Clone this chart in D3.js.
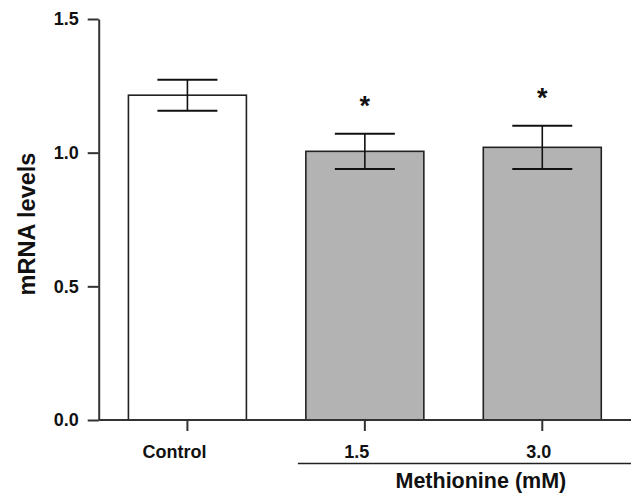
<!DOCTYPE html>
<html>
<head>
<meta charset="utf-8">
<script src="https://cdn.jsdelivr.net/npm/d3@7"></script>
<style>
  body { margin: 0; background: #fff; }
  text { font-family: "Liberation Sans", Arial, Helvetica, sans-serif; font-weight: bold; fill: #111; }
</style>
</head>
<body>
<svg id="chart" width="635" height="496"></svg>
<script>
var groups = ["Control", "1.5", "3.0"]
var means = [1.215, 1.005, 1.02]
var sems = [0.058, 0.066, 0.081]
var significant = [false, true, true]
var yTicks = [0, 0.5, 1.0, 1.5]

var svg = d3.select("#chart")

var plotLeft = 98.7, plotRight = 631, plotTop = 19, plotBottom = 420

var x = d3.scaleBand()
  .domain(groups)
  .range([plotLeft, plotRight])
  .paddingInner(0.335)
  .paddingOuter(0.1675)

var y = d3.scaleLinear()
  .domain([0, 1.5])
  .range([plotBottom, plotTop])

// bars
svg.selectAll("rect.bar")
  .data(groups)
  .enter().append("rect")
  .attr("class", "bar")
  .attr("x", function(d) { return x(d) })
  .attr("y", function(d, i) { return y(means[i]) })
  .attr("width", x.bandwidth())
  .attr("height", function(d, i) { return plotBottom - y(means[i]) })
  .attr("fill", function(d, i) { return i == 0 ? "#ffffff" : "#b3b3b3" })
  .attr("stroke", "#222")
  .attr("stroke-width", 1.6)

// error bars
var capW = 30
groups.forEach(function(g, i) {
  var cx = x(g) + x.bandwidth() / 2
  var hi = y(means[i] + sems[i]), lo = y(means[i] - sems[i])
  svg.append("line").attr("x1", cx).attr("x2", cx).attr("y1", hi).attr("y2", lo)
    .attr("stroke", "#111").attr("stroke-width", 1.6)
  svg.append("line").attr("x1", cx - capW).attr("x2", cx + capW).attr("y1", hi).attr("y2", hi)
    .attr("stroke", "#111").attr("stroke-width", 2)
  svg.append("line").attr("x1", cx - capW).attr("x2", cx + capW).attr("y1", lo).attr("y2", lo)
    .attr("stroke", "#111").attr("stroke-width", 2)
  if (significant[i]) {
    svg.append("text")
      .attr("x", cx)
      .attr("y", hi - 19)
      .attr("text-anchor", "middle")
      .attr("font-size", 27)
      .text("*")
  }
})

// y axis
var yAxis = d3.axisLeft(y)
  .tickValues(yTicks)
  .tickFormat(d3.format(".1f"))
  .tickSize(11)
  .tickSizeOuter(0)
  .tickPadding(9)

var ya = svg.append("g")
  .attr("transform", "translate(" + plotLeft + ",0)")
  .call(yAxis)
ya.select(".domain").attr("stroke", "#333").attr("stroke-width", 2)
ya.selectAll(".tick line").attr("stroke", "#333").attr("stroke-width", 2)
ya.selectAll(".tick text").attr("font-size", 18).attr("fill", "#111")
  .attr("font-family", "'Liberation Sans', Arial, sans-serif").attr("font-weight", "bold")

// x axis
var xAxis = d3.axisBottom(x)
  .tickSize(11)
  .tickSizeOuter(0)
  .tickPadding(14)

var xa = svg.append("g")
  .attr("transform", "translate(0," + plotBottom + ")")
  .call(xAxis)
xa.select(".domain").attr("stroke", "#333").attr("stroke-width", 2)
  .attr("d", "M" + plotLeft + ",0H" + plotRight)
xa.selectAll(".tick line").attr("stroke", "#333").attr("stroke-width", 2)
var labelNudge = [-13, -8, -3.5]
xa.selectAll(".tick text").attr("font-size", 18).attr("fill", "#111")
  .attr("font-family", "'Liberation Sans', Arial, sans-serif").attr("font-weight", "bold")
  .attr("dx", function(d, i) { return labelNudge[i] })

// methionine bracket
var bx1 = x("1.5") - 8
var bx2 = plotRight
svg.append("line")
  .attr("x1", bx1).attr("x2", bx2)
  .attr("y1", 463.5).attr("y2", 463.5)
  .attr("stroke", "#222").attr("stroke-width", 1.6)
svg.append("text")
  .attr("x", x("3.0") + x.bandwidth() - 35)
  .attr("y", 488)
  .attr("text-anchor", "end")
  .attr("font-size", 21.5)
  .text("Methionine (mM)")

// y title
svg.append("text")
  .attr("transform", "translate(35,224) rotate(-90)")
  .attr("text-anchor", "middle")
  .attr("font-size", 23.5)
  .text("mRNA levels")
</script>
</body>
</html>
